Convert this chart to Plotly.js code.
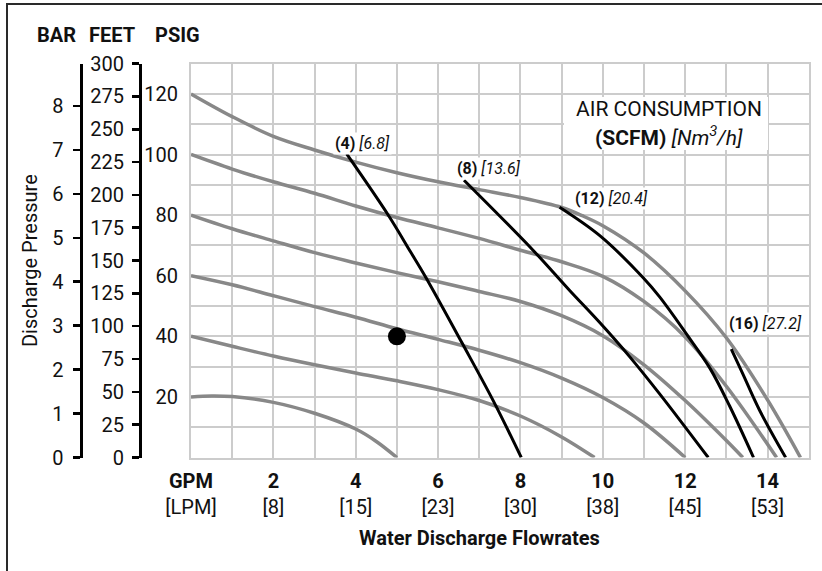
<!DOCTYPE html>
<html><head><meta charset="utf-8">
<script src="https://cdn.plot.ly/plotly-3.0.1.min.js"></script>
<style>html,body{margin:0;padding:0;background:#fff;}#chart{width:822px;height:571px;}</style>
</head><body><div id="chart"></div>
<script>
// ---------- DATA ----------
// X tick labels (GPM / LPM)
const gpmTickVals = [0, 2, 4, 6, 8, 10, 12, 14];
const gpmLabels = ['GPM', '2', '4', '6', '8', '10', '12', '14'];
const lpmLabels = ['[LPM]', '[8]', '[15]', '[23]', '[30]', '[38]', '[45]', '[53]'];
// Pressure scales
const psigTicks = [20, 40, 60, 80, 100, 120];
const feetTicks = [0, 25, 50, 75, 100, 125, 150, 175, 200, 225, 250, 275, 300];
const barTicks = [0, 1, 2, 3, 4, 5, 6, 7, 8];

// Air inlet pressure curves (gray)  x = GPM, y = PSIG
const p120x = [0, 1, 2, 3, 4, 5, 6, 7, 8, 9, 9.5, 10, 11, 12, 13, 14, 14.8];
const p120y = [120, 112.5, 106, 101.5, 97.5, 94, 91, 88.4, 85.8, 82.5, 79.8, 76.5, 67.5, 55, 39.5, 19, 0];
const p100x = [0, 1, 2, 3, 4, 5, 6, 7, 8, 9, 10, 11, 12, 13, 14.22];
const p100y = [100, 95.2, 91, 87.2, 83, 79.2, 75.8, 72.3, 68.4, 64.6, 59.8, 51.5, 39.8, 23.5, 0];
const p80x = [0, 1, 2, 3, 4, 5, 6, 7, 8, 9, 10, 11, 12, 13, 13.4];
const p80y = [80, 75.5, 71.5, 67.6, 64.2, 61, 58, 54.8, 51.5, 46.8, 40.2, 30.6, 18.8, 5.6, 0];
const p60x = [0, 1, 2, 3, 4, 5, 6, 7, 8, 9, 10, 11, 12];
const p60y = [60, 57, 53.4, 49.8, 46.3, 42.5, 39, 35.4, 31.3, 26.2, 19.8, 11.4, 0];
const p40x = [0, 1, 2, 3, 4, 5, 6, 7, 8, 9, 9.8];
const p40y = [40, 36.7, 33.5, 30.6, 27.9, 25.3, 22.4, 18.8, 13.7, 6.8, 0];
const p20x = [0, 0.5, 1, 2, 3, 4, 4.5, 5];
const p20y = [20, 20.3, 20.1, 18.2, 14.6, 9.4, 5.3, 0];

// Air consumption curves (black)
const scfm4x = [3.78, 4.8, 5.33, 5.7, 6.59, 7.36, 8.02];
const scfm4y = [100.2, 79.8, 67.9, 59.5, 37.6, 18.2, 0];
const scfm8x = [6.63, 8.3, 9.19, 9.92, 10.65, 11.38, 12.56];
const scfm8y = [91.5, 68.5, 55.2, 44.6, 33.3, 21, 0];
const scfm12x = [8.95, 9.92, 10.97, 11.38, 12.03, 12.6, 13.08, 13.66];
const scfm12y = [82.6, 73.3, 59.5, 53, 40.8, 29.5, 17, 0];
const scfm16x = [13.12, 13.4, 13.81, 14.44];
const scfm16y = [35.8, 27.6, 15.5, 0];

const scfmLabels = ['(4)', '(8)', '(12)', '(16)'];
const nm3Labels = ['[6.8]', '[13.6]', '[20.4]', '[27.2]'];

// Operating point
const dotX = [5];
const dotY = [40];

// ---------- LAYOUT / STYLE ----------
const W = 822, H = 571;
const px = v => v / W;
const py = v => 1 - v / H;
const FONT = 'Roboto, "Liberation Sans", Arial, sans-serif';
const GRAY = '#888888', BLACK = '#000000', GRID = '#cccccc', TXT = '#111111';
const PSI_PER_BAR = 14.5038;

function curve(x, y, color, width) {
  return {type: 'scatter', mode: 'lines', x: x, y: y,
    line: {color: color, width: width, shape: 'spline', smoothing: 1},
    hoverinfo: 'skip', showlegend: false};
}

const traces = [
  curve(p20x, p20y, GRAY, 3.5),
  curve(p40x, p40y, GRAY, 3.5),
  curve(p60x, p60y, GRAY, 3.5),
  curve(p80x, p80y, GRAY, 3.5),
  curve(p100x, p100y, GRAY, 3.5),
  curve(p120x, p120y, GRAY, 3.5),
  curve(scfm4x, scfm4y, BLACK, 3),
  curve(scfm8x, scfm8y, BLACK, 3),
  curve(scfm12x, scfm12y, BLACK, 3),
  curve(scfm16x, scfm16y, BLACK, 3),
  {type: 'scatter', mode: 'markers', x: dotX, y: dotY,
   marker: {color: '#000', size: 18}, hoverinfo: 'skip', showlegend: false},
  {type: 'scatter', mode: 'lines', x: [null], y: [null], yaxis: 'y2', showlegend: false, hoverinfo: 'skip'},
  {type: 'scatter', mode: 'lines', x: [null], y: [null], yaxis: 'y3', showlegend: false, hoverinfo: 'skip'}
];

// x grid every 1 GPM, labels on even values
const xGridVals = [], xGridText = [];
for (let i = 0; i <= 15; i++) {
  xGridVals.push(i);
  const k = gpmTickVals.indexOf(i);
  xGridText.push(k >= 0 ? '<b>' + gpmLabels[k] + '</b><br>' + lpmLabels[k] : ' ');
}
// y grid every 10 psi, labels per psigTicks
const yGridVals = [], yGridText = [];
for (let v = 0; v <= 130; v += 10) {
  yGridVals.push(v);
  yGridText.push(psigTicks.indexOf(v) >= 0 ? String(v) : ' ');
}

const tickFont = {family: FONT, size: 20, color: TXT};

const annotations = [
  {text: '<b>BAR</b>', x: px(56), y: py(35)},
  {text: '<b>FEET</b>', x: px(111.5), y: py(35)},
  {text: '<b>PSIG</b>', x: px(177.5), y: py(35)},
  {text: 'Discharge Pressure', x: px(30), y: py(261), textangle: -90, font: {family: FONT, size: 20, color: TXT}},
  {text: '<b>Water Discharge Flowrates</b>', x: px(480), y: py(538)},
  {text: 'AIR CONSUMPTION', x: px(668.7), y: py(108.5), font: {family: FONT, size: 21, color: TXT}},
  {text: '<b>(SCFM)</b> <i>[Nm<sup>3</sup>/h]</i>', x: px(669), y: py(135.5), font: {family: FONT, size: 21, color: TXT}}
].map(a => Object.assign({xref: 'paper', yref: 'paper', xanchor: 'center', yanchor: 'middle',
  showarrow: false, font: {family: FONT, size: 20, color: TXT}}, a));

const labelAnchors = [[3.46, 103.5], [6.41, 95.4], [9.27, 85.4], [13.01, 44.3]];
scfmLabels.forEach((s, i) => {
  annotations.push({text: '<b>' + s + '</b> <i>' + nm3Labels[i] + '</i>',
    x: labelAnchors[i][0], y: labelAnchors[i][1], xref: 'x', yref: 'y',
    xanchor: 'left', yanchor: 'middle', showarrow: false, bgcolor: '#ffffff', borderpad: 1,
    font: {family: FONT, size: 16, color: TXT}});
});

const layout = {
  width: W, height: H,
  margin: {l: 0, r: 0, t: 0, b: 0},
  paper_bgcolor: '#ffffff', plot_bgcolor: '#ffffff',
  showlegend: false,
  xaxis: {domain: [px(191), px(808.7)], range: [0, 15], tickmode: 'array',
    tickvals: xGridVals, ticktext: xGridText, showgrid: true, gridcolor: GRID, gridwidth: 2,
    zeroline: false, showline: true, linecolor: GRID, linewidth: 2, mirror: true,
    ticks: '', tickfont: tickFont, ticklabelstandoff: 4, fixedrange: true},
  yaxis: {domain: [py(457.5), py(63.6)], range: [0, 130], tickmode: 'array',
    tickvals: yGridVals, ticktext: yGridText, showgrid: true, gridcolor: GRID, gridwidth: 2,
    zeroline: false, showline: true, linecolor: GRID, linewidth: 2, mirror: true,
    ticks: '', tickfont: tickFont, ticklabelstandoff: 7, fixedrange: true},
  yaxis2: {overlaying: 'y', anchor: 'free', position: px(140), side: 'left',
    range: [0, 300], tickmode: 'array', tickvals: feetTicks,
    ticks: 'outside', ticklen: 7, tickwidth: 2.5, tickcolor: '#000',
    showline: true, linecolor: '#000', linewidth: 3, showgrid: false, zeroline: false,
    tickfont: tickFont, ticklabelstandoff: 4, fixedrange: true},
  yaxis3: {overlaying: 'y', anchor: 'free', position: px(80.5), side: 'left',
    range: [0, 130 / PSI_PER_BAR], tickmode: 'array', tickvals: barTicks,
    ticks: 'outside', ticklen: 7, tickwidth: 2.5, tickcolor: '#000',
    showline: true, linecolor: '#000', linewidth: 3, showgrid: false, zeroline: false,
    tickfont: tickFont, ticklabelstandoff: 5, fixedrange: true},
  shapes: [
    {type: 'rect', xref: 'paper', yref: 'paper', x0: px(564), x1: px(768), y0: py(150), y1: py(97),
     fillcolor: '#ffffff', line: {width: 0}, layer: 'above'},
    {type: 'rect', xref: 'paper', yref: 'paper', x0: px(7), x1: 1.05, y0: -0.05, y1: py(4),
     fillcolor: 'rgba(0,0,0,0)', line: {color: '#2a2a2a', width: 2}, layer: 'above'}
  ],
  annotations: annotations
};

Plotly.newPlot('chart', traces, layout, {displayModeBar: false, staticPlot: true});
</script>
</body></html>
